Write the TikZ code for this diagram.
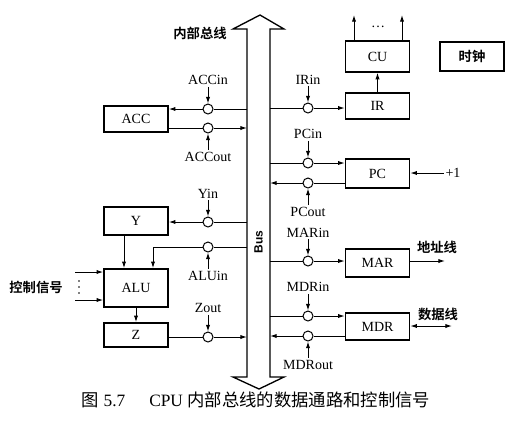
\documentclass[tikz,border=0pt]{standalone}
\usepackage{fontspec}
\setmainfont{Liberation Serif}
\setsansfont{Liberation Sans}
\newfontfamily\cjk{Noto Sans CJK SC}[BoldFont={Noto Sans CJK SC Bold}]
\usetikzlibrary{arrows.meta,positioning}

\begin{document}
\begin{tikzpicture}
  [
    x=0.75pt, y=-0.75pt,
    >={Latex[length=5pt,width=3.2pt]},
    line width=0.75pt,
    reg/.style={draw, line width=1.2pt, minimum width=48pt, inner sep=0pt, font=\fontsize{10.5}{12}\selectfont},
    gate/.style={draw, circle, fill=white, minimum size=7.5pt, inner sep=0pt},
    sig/.style={font=\fontsize{10.5}{12}\selectfont, inner sep=1pt},
    hz/.style={font=\cjk\bfseries\fontsize{10}{12}\selectfont, inner sep=1pt},
    node distance=12.5pt,
  ]
  \useasboundingbox (0,0) rectangle (528,430);
  % internal bus
  \draw[line width=1pt] (247,377) -- (247,29) -- (233,29) -- (260,15) -- (284,29) -- (270,29)
    -- (270,377) -- (284,377) -- (259,389) -- (233,377) -- cycle;
  \coordinate (busL) at (247,0);
  \coordinate (busR) at (270,0);
  \node[rotate=90, font=\sffamily\bfseries\fontsize{9}{11}\selectfont] (buslbl) at (258.5,242) {Bus};
  \node[hz] (buscap) at (200,33) {内部总线};

  % registers on the left
  \node[reg, minimum height=19.5pt] (acc) at (136,119) {ACC};
  \node[reg, minimum height=21pt] (y) at (136,221) {Y};
  \node[reg, minimum height=28.5pt] (alu) at (136,288) {ALU};
  \node[reg, minimum height=18pt] (z) at (136,335) {Z};

  % registers on the right
  \node[reg, minimum height=23pt] (cu) at (377.5,56.5) {CU};
  \node[reg, minimum height=22pt, font=\cjk\bfseries\fontsize{10}{12}\selectfont] (clk) at (472,56.5) {时钟};
  \node[reg, minimum height=19.5pt] (ir) at (377.5,106) {IR};
  \node[reg, minimum height=22pt] (pc) at (377.5,173.5) {PC};
  \node[reg, minimum height=21pt] (mar) at (377.5,263) {MAR};
  \node[reg, minimum height=20pt] (mdr) at (377.5,326.5) {MDR};

  % gates
  \node[gate] (accin) at (208,109) {};
  \node[gate] (accout) at (208,128) {};
  \node[gate] (yin) at (208,222) {};
  \node[gate] (aluin) at (208,247) {};
  \node[gate] (zout) at (208,337) {};
  \node[gate] (irin) at (308,108) {};
  \node[gate] (pcin) at (308,163) {};
  \node[gate] (pcout) at (308,183) {};
  \node[gate] (marin) at (308,261) {};
  \node[gate] (mdrin) at (308,316) {};
  \node[gate] (mdrout) at (308,336) {};

  % gate signals
  \node[sig, above=of accin] (accinL) {ACCin};
  \node[sig, below=of accout] (accoutL) {ACCout};
  \node[sig, above=of yin] (yinL) {Yin};
  \node[sig, below=of aluin] (aluinL) {ALUin};
  \node[sig, above=of zout] (zoutL) {Zout};
  \node[sig, above=of irin] (irinL) {IRin};
  \node[sig, above=of pcin] (pcinL) {PCin};
  \node[sig, below=of pcout] (pcoutL) {PCout};
  \node[sig, above=of marin] (marinL) {MARin};
  \node[sig, above=of mdrin] (mdrinL) {MDRin};
  \node[sig, below=of mdrout] (mdroutL) {MDRout};
  \foreach \g in {accin,yin,zout,irin,pcin,marin,mdrin,accout,aluin,pcout,mdrout}
    \draw[->] (\g L) -- (\g);

  % left data paths
  \draw[->] (accin -| busL) -- (accin) -- (accin -| acc.east);
  \draw[->] (accout -| acc.east) -- (accout) -- (accout -| busL);
  \draw[->] (yin -| busL) -- (yin) -- (yin -| y.east);
  \draw[->] (aluin -| busL) -- (aluin) -| ([xshift=12.75pt]alu.north);
  \draw[->] (zout -| z.east) -- (zout) -- (zout -| busL);
  \draw[->] ([xshift=-9pt]y.south) -- ([xshift=-9pt]alu.north);
  \draw[->] (alu.south) -- (z.north);

  % control signals into the ALU
  \node[hz] (ctrl) at (36,287) {控制信号};
  \coordinate (c1) at (75,272);
  \coordinate (c2) at (75,300);
  \draw[->] (c1) -- (c1 -| alu.west);
  \draw[->] (c2) -- (c2 -| alu.west);
  \foreach \d in {281,287,293}
    \fill (79,\d) circle (0.7pt);

  % right data paths
  \draw[->] (irin -| busR) -- (irin) -- (irin -| ir.west);
  \draw[->] (pcin -| busR) -- (pcin) -- (pcin -| pc.west);
  \draw[->] (pcout -| pc.west) -- (pcout) -- (pcout -| busR);
  \draw[->] (marin -| busR) -- (marin) -- (marin -| mar.west);
  \draw[->] (mdrin -| busR) -- (mdrin) -- (mdrin -| mdr.west);
  \draw[->] (mdrout -| mdr.west) -- (mdrout) -- (mdrout -| busR);
  \draw[->] (ir.north) -- (cu.south);

  % CU outputs
  \coordinate (cuo1) at (354,15);
  \coordinate (cuo2) at (402,15);
  \draw[->] (cuo1 |- cu.north) -- (cuo1);
  \draw[->] (cuo2 |- cu.north) -- (cuo2);
  \node[sig] (cudots) at (378,27) {\ldots};

  % PC increment, address and data lines
  \node[sig] (inc) at (453,173) {+1};
  \draw[->] (inc.west) -- (inc -| pc.east);
  \coordinate (addr) at (445,261);
  \draw[->] (addr -| mar.east) -- (addr);
  \node[hz] (addrL) at (437,247) {地址线};
  \coordinate (data) at (452,326);
  \draw[<->] (data -| mdr.east) -- (data);
  \node[hz] (dataL) at (438,314) {数据线};

  % caption
  \node[font=\fontsize{13}{15}\selectfont] (caption) at (256,400)
    {{\cjk 图} 5.7\hspace{18pt}CPU {\cjk 内部总线的数据通路和控制信号}};
\end{tikzpicture}
\end{document}
